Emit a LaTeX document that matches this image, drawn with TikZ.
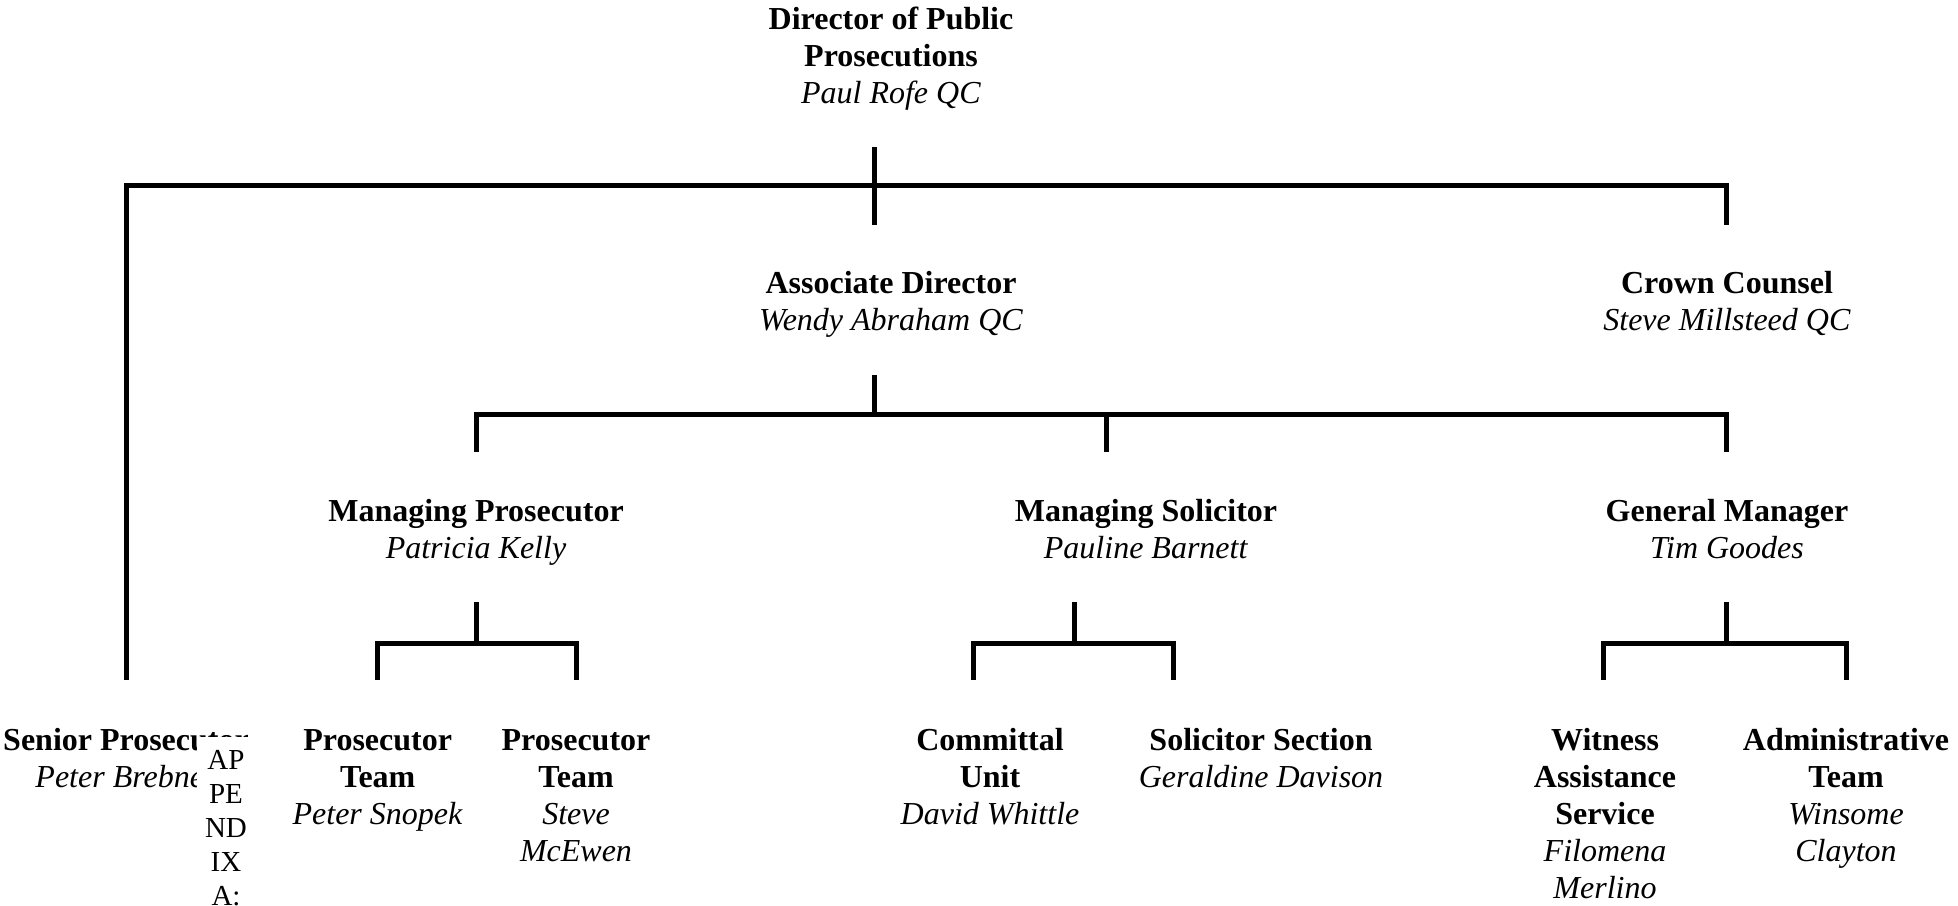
\documentclass[tikz,border=0pt]{standalone}
\usepackage{fontspec}
\setmainfont{Liberation Serif}
\begin{document}
\begin{tikzpicture}[x=1pt,y=-1pt]
\tikzset{
  org/.style={align=center, inner sep=0pt, anchor=north, font=\fontsize{32}{37}\selectfont},
  conn/.style={line width=5pt, line join=miter},
  apbox/.style={fill=white, inner sep=0pt, anchor=north, text width=58pt, align=center, font=\fontsize{29}{34}\selectfont}
}
\fill[white] (0,0) rectangle (1958,905);
\useasboundingbox (0,0) rectangle (1958,905);

% nodes
\node[org] (dpp) at (891,3.3) {\strut\textbf{Director of Public}\\\textbf{Prosecutions}\\\textit{Paul Rofe QC}};
\node[org] (assoc) at (891,267.6) {\strut\textbf{Associate Director}\\\textit{Wendy Abraham QC}};
\node[org] (crown) at (1727,267.6) {\strut\textbf{Crown Counsel}\\\textit{Steve Millsteed QC}};
\node[org] (mpros) at (476,495.3) {\strut\textbf{Managing Prosecutor}\\\textit{Patricia Kelly}};
\node[org] (msol) at (1146,495.3) {\strut\textbf{Managing Solicitor}\\\textit{Pauline Barnett}};
\node[org] (gm) at (1727,495.3) {\strut\textbf{General Manager}\\\textit{Tim Goodes}};
\node[org] (senior) at (126,724) {\strut\textbf{Senior Prosecutor}\\\textit{Peter Brebner}};
\node[org] (pt1) at (377.7,724) {\strut\textbf{Prosecutor}\\\textbf{Team}\\\textit{Peter Snopek}};
\node[org] (pt2) at (576,724) {\strut\textbf{Prosecutor}\\\textbf{Team}\\\textit{Steve}\\\textit{McEwen}};
\node[org] (comm) at (990,724) {\strut\textbf{Committal}\\\textbf{Unit}\\\textit{David Whittle}};
\node[org] (sol) at (1261,724) {\strut\textbf{Solicitor Section}\\\textit{Geraldine Davison}};
\node[org] (wit) at (1605,724) {\strut\textbf{Witness}\\\textbf{Assistance}\\\textbf{Service}\\\textit{Filomena}\\\textit{Merlino}};
\node[org] (adm) at (1846,724) {\strut\textbf{Administrative}\\\textbf{Team}\\\textit{Winsome}\\\textit{Clayton}};

% overlapping appendix label
\node[apbox] (ap) at (226,737) {\rule{0pt}{32.6pt}AP\\PE\\ND\\IX\\A:};

% connector points
\coordinate (dppS) at (874,147);
\coordinate (dppE) at (874,225);
\coordinate (b1L) at (126,185);
\coordinate (b1R) at (1726,185);
\coordinate (seniorN) at (126,680);
\coordinate (crownN) at (1726,225);

\coordinate (assocS) at (874,375);
\coordinate (b2M) at (874,414);
\coordinate (b2L) at (476,414);
\coordinate (b2R) at (1726,414);
\coordinate (b2C) at (1106,414);
\coordinate (mprosN) at (476,452);
\coordinate (msolN) at (1106,452);
\coordinate (gmN) at (1726,452);

\coordinate (mprosS) at (476,602);
\coordinate (b3aM) at (476,643);
\coordinate (b3aL) at (377,643);
\coordinate (b3aR) at (576,643);
\coordinate (pt1N) at (377,680);
\coordinate (pt2N) at (576,680);

\coordinate (msolS) at (1074,602);
\coordinate (b3bM) at (1074,643);
\coordinate (b3bL) at (973,643);
\coordinate (b3bR) at (1173,643);
\coordinate (commN) at (973,680);
\coordinate (solN) at (1173,680);

\coordinate (gmS) at (1726,602);
\coordinate (b3cM) at (1726,643);
\coordinate (b3cL) at (1603,643);
\coordinate (b3cR) at (1846,643);
\coordinate (witN) at (1603,680);
\coordinate (admN) at (1846,680);

% connectors
\begin{scope}[on background layer/.style={}]
\draw[conn] (dppS) -- (dppE);
\draw[conn] (seniorN) -- (b1L) -- (b1R) -- (crownN);

\draw[conn] (assocS) -- (b2M);
\draw[conn] (mprosN) -- (b2L) -- (b2R) -- (gmN);
\draw[conn] (b2C) -- (msolN);

\draw[conn] (mprosS) -- (b3aM);
\draw[conn] (pt1N) -- (b3aL) -- (b3aR) -- (pt2N);

\draw[conn] (msolS) -- (b3bM);
\draw[conn] (commN) -- (b3bL) -- (b3bR) -- (solN);

\draw[conn] (gmS) -- (b3cM);
\draw[conn] (witN) -- (b3cL) -- (b3cR) -- (admN);
\end{scope}
\end{tikzpicture}
\end{document}
